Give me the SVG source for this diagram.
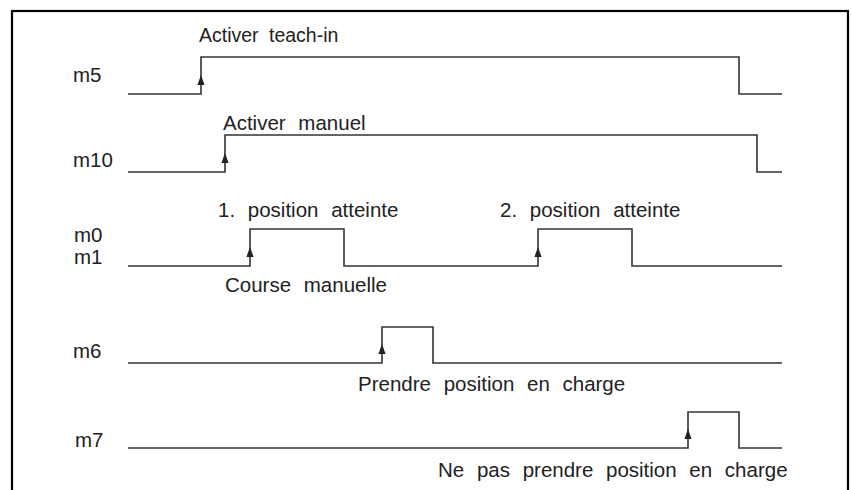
<svg xmlns="http://www.w3.org/2000/svg" width="852" height="490" viewBox="0 0 852 490">
  <style>
    .frame { fill: none; stroke: #000; stroke-width: 2.2; }
    .sig { fill: none; stroke: #333; stroke-width: 1.6; stroke-linejoin: miter; }
    .lbl { font-family: "Liberation Sans", Arial, sans-serif; font-size: 20.5px; fill: #222; word-spacing: 7px; }
    .tight { font-size: 19.5px; word-spacing: 5px; }
    .arr { fill: #222; }
  </style>
  <defs>
    <!-- upward trigger arrowhead, tip at origin -->
    <path id="up" d="M0,0 L3.6,10 L-3.6,10 Z"/>
  </defs>

  <rect class="frame" x="12" y="11" width="836" height="500"/>

  <g id="m5">
    <text class="lbl" x="73" y="82">m5</text>
    <path class="sig" d="M128,94 H201 V57 H739 V94 H782"/>
    <text class="lbl tight" x="199" y="42">Activer teach-in</text>
  </g>

  <g id="m10">
    <text class="lbl" x="73" y="167">m10</text>
    <path class="sig" d="M128,172 H225 V135 H757 V172 H782"/>
    <text class="lbl" x="223" y="130">Activer manuel</text>
  </g>

  <g id="m0m1">
    <text class="lbl" x="74" y="242">m0</text>
    <text class="lbl" x="74" y="264">m1</text>
    <path class="sig" d="M128,266 H250 V229 H344 V266 H538 V229 H632 V266 H782"/>
    <text class="lbl" x="218" y="217">1. position atteinte</text>
    <text class="lbl" x="500" y="217">2. position atteinte</text>
    <text class="lbl" x="225" y="292">Course manuelle</text>
  </g>

  <g id="m6">
    <text class="lbl" x="73" y="358">m6</text>
    <path class="sig" d="M128,363 H382 V327 H433 V363 H782"/>
    <text class="lbl" x="358" y="391">Prendre position en charge</text>
  </g>

  <g id="m7">
    <text class="lbl" x="75" y="447">m7</text>
    <path class="sig" d="M128,448 H688 V412 H739 V448 H782"/>
    <text class="lbl" x="438" y="477">Ne pas prendre position en charge</text>
  </g>

  <g id="connectors">
    <use class="arr" href="#up" x="201" y="75"/>
    <use class="arr" href="#up" x="225" y="153"/>
    <use class="arr" href="#up" x="250" y="247"/>
    <use class="arr" href="#up" x="538" y="247"/>
    <use class="arr" href="#up" x="382" y="344"/>
    <use class="arr" href="#up" x="688" y="429"/>
  </g>
</svg>
